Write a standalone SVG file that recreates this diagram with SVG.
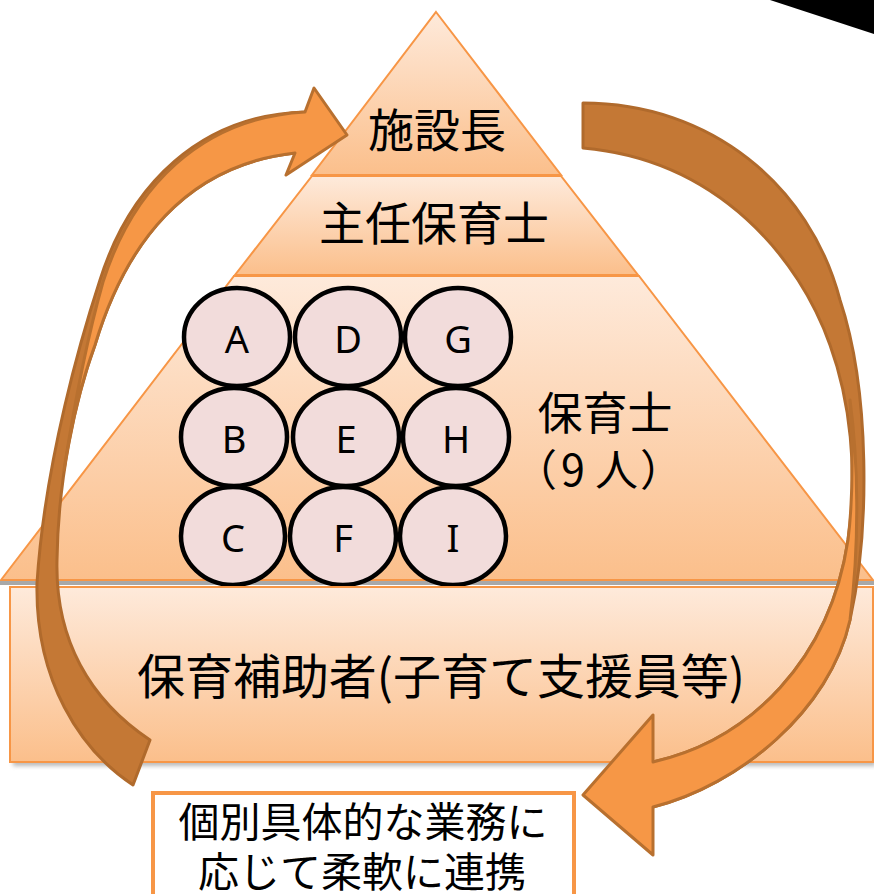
<svg xmlns="http://www.w3.org/2000/svg" width="874" height="894" viewBox="0 0 874 894">
<style>
.sec{stroke:#F79646;stroke-width:2;fill:url(#g)}
.ppl ellipse{fill:#F2DCDB;stroke:#000;stroke-width:4.5}
.ppl text{font-family:"Noto Sans","Open Sans",sans-serif;font-size:38px;text-anchor:middle;fill:#000}
.jp{font-family:"Noto Sans CJK JP","Noto Sans CJK SC",sans-serif;fill:#000}
.dark{fill:#C47835;stroke:#B06A2C;stroke-width:3;stroke-linejoin:round}
.light{fill:#F69746;stroke:#B8702F;stroke-width:3;stroke-linejoin:round}
</style>
<defs>
<linearGradient id="g" x1="0" y1="0" x2="0" y2="1">
<stop offset="0" stop-color="#FEEADB"/>
<stop offset="1" stop-color="#FBBF8B"/>
</linearGradient>
<filter id="sh" x="-5%" y="-5%" width="110%" height="120%">
<feGaussianBlur stdDeviation="2"/>
</filter>
</defs>
<rect width="874" height="894" fill="#fff"/>
<polygon points="770,0 874,0 874,34" fill="#000"/>

<g id="pyramid-base">
<rect x="0" y="580" width="874" height="5" fill="#A8A8A8"/>
<polygon class="sec" points="234,276 639,276 873,580 1,580"/>
<text class="jp" x="605" y="430" font-size="45" text-anchor="middle">保育士</text>
<text class="jp" x="514 561 595 640" y="486" font-size="43">（9人）</text>
</g>
<g id="chief">
<polygon class="sec" points="312,176 561,176 638,275 235,275"/>
<text class="jp" x="434" y="240" font-size="46" text-anchor="middle">主任保育士</text>
</g>
<g id="director">
<polygon class="sec" points="436,12 561,175 312,175"/>
<text class="jp" x="437" y="147" font-size="46" text-anchor="middle">施設長</text>
</g>

<g id="staff" class="ppl">
<g id="A"><ellipse cx="237" cy="337" rx="53" ry="49"/><text x="237" y="353">A</text></g>
<g id="D"><ellipse cx="348" cy="337" rx="53" ry="49"/><text x="348" y="353">D</text></g>
<g id="G"><ellipse cx="458" cy="337" rx="53" ry="49"/><text x="458" y="353">G</text></g>
<g id="B"><ellipse cx="234" cy="437" rx="53" ry="49"/><text x="234" y="453">B</text></g>
<g id="E"><ellipse cx="346" cy="437" rx="53" ry="49"/><text x="346" y="453">E</text></g>
<g id="H"><ellipse cx="456" cy="437" rx="53" ry="49"/><text x="456" y="453">H</text></g>
<g id="C"><ellipse cx="233" cy="536" rx="52" ry="49"/><text x="233" y="552">C</text></g>
<g id="F"><ellipse cx="343" cy="536" rx="53" ry="49"/><text x="343" y="552">F</text></g>
<g id="I"><ellipse cx="453" cy="536" rx="53" ry="49"/><text x="453" y="552">I</text></g>
</g>

<g id="assistants">
<rect x="13" y="591" width="863" height="175" fill="#8c8c8c" opacity="0.6" filter="url(#sh)"/>
<rect class="sec" x="10" y="587" width="863" height="175"/>
<text class="jp" x="137" y="694" font-size="48" textLength="608" lengthAdjust="spacingAndGlyphs">保育補助者(子育て支援員等)</text>
</g>

<g id="connectors">
<path class="dark" d="M305,112 C200,115 130,185 100,280 C82,335 45,460 37,583 C35,680 80,750 133,785 L150,740 C90,700 55,640 57,560 C58,480 75,400 95,345 C125,245 185,165 295,153 Z"/>
<path class="light" d="M305,112 C200,118 133,188 103,282 C88,335 75,400 64,470 C72,420 82,380 95,345 C125,245 185,165 295,153 L286,175 L347,135 L314,88 Z"/>
<path class="dark" d="M583,103 C710,103 810,185 840,300 C870,390 870,530 850,620 C830,710 740,785 653,807 L653,762 C750,740 830,660 848,540 C858,470 850,400 830,345 C800,260 720,160 583,148 Z"/>
<path class="light" d="M653,762 C750,740 830,660 848,540 C853,500 853,450 850,400 C858,460 860,540 850,620 C830,710 740,785 653,807 L653,855 L583,795 L653,715 Z"/>
</g>

<g id="note">
<rect x="153" y="793" width="421" height="105" fill="#fff" stroke="#F79646" stroke-width="4"/>
<text class="jp" x="363" y="837" font-size="41" text-anchor="middle">個別具体的な業務に</text>
<text class="jp" x="362" y="887" font-size="41" text-anchor="middle">応じて柔軟に連携</text>
</g>
</svg>
